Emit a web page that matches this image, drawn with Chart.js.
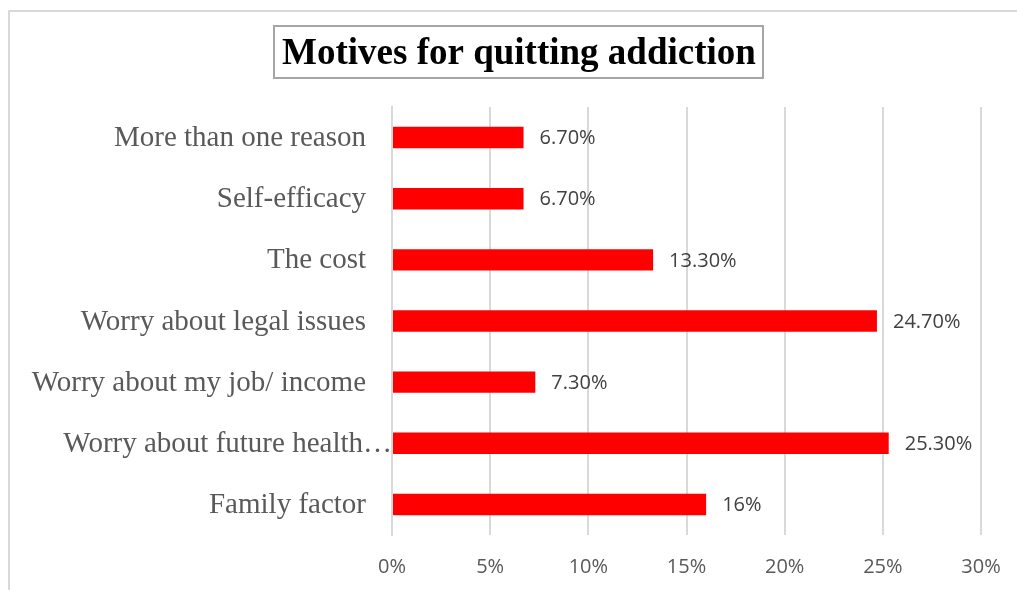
<!DOCTYPE html>
<html>
<head>
<meta charset="utf-8">
<script src="https://cdn.jsdelivr.net/npm/chart.js@4.4.1/dist/chart.umd.min.js"></script>
<style>
  html, body { margin: 0; padding: 0; background: #ffffff; }
  #wrap { position: relative; width: 1017px; height: 590px; }
  canvas { display: block; }
</style>
</head>
<body>
<div id="wrap"><canvas id="c" width="1017" height="590"></canvas></div>
<script>
const titleText = "Motives for quitting addiction";
const categories = [
  "More than one reason",
  "Self-efficacy",
  "The cost",
  "Worry about legal issues",
  "Worry about my job/ income",
  "Worry about future health\u2026",
  "Family factor"
];
const values = [6.7, 6.7, 13.3, 24.7, 7.3, 25.3, 16];
const valueLabels = ["6.70%", "6.70%", "13.30%", "24.70%", "7.30%", "25.30%", "16%"];
const tickValues = [0, 5, 10, 15, 20, 25, 30];

const CAT_FONT = '29px "Liberation Serif", "Times New Roman", serif';

const framePlugin = {
  id: 'frame',
  beforeDraw(chart) {
    const ctx = chart.ctx;
    ctx.save();
    ctx.fillStyle = '#ffffff';
    ctx.fillRect(0, 0, chart.width, chart.height);
    ctx.strokeStyle = '#d9d9d9';
    ctx.lineWidth = 2;
    ctx.beginPath();
    ctx.moveTo(9, 600);
    ctx.lineTo(9, 11);
    ctx.lineTo(1030, 11);
    ctx.stroke();
    ctx.restore();
  },
  afterDraw(chart) {
    const ctx = chart.ctx;
    ctx.save();
    // title box
    ctx.font = 'bold 37px "Liberation Serif", "Times New Roman", serif';
    ctx.fillStyle = '#000000';
    ctx.textAlign = 'center';
    ctx.textBaseline = 'middle';
    ctx.fillText(titleText, 519, 54);
    ctx.strokeStyle = '#a6a6a6';
    ctx.lineWidth = 2;
    ctx.strokeRect(274, 26, 489, 52);
    // category labels (from the y scale positions)
    const yScale = chart.scales.y;
    ctx.font = CAT_FONT;
    ctx.fillStyle = '#595959';
    ctx.textAlign = 'right';
    ctx.textBaseline = 'middle';
    categories.forEach((c, i) => {
      const y = yScale.getPixelForValue(i);
      let x = yScale.right - 26;
      if (c.endsWith('\u2026')) {
        // truncated label: ellipsis runs past the label gap, as in the original
        x = yScale.right;
      }
      ctx.fillText(c, x, y + 1);
    });
    // data labels
    const meta = chart.getDatasetMeta(0);
    ctx.font = '20px "Open Sans", sans-serif';
    ctx.fillStyle = '#404040';
    ctx.textAlign = 'left';
    ctx.textBaseline = 'middle';
    meta.data.forEach((bar, i) => {
      ctx.fillText(valueLabels[i], bar.x + 16, bar.y + 1);
    });
    ctx.restore();
  }
};

new Chart(document.getElementById('c'), {
  type: 'bar',
  data: {
    labels: categories,
    datasets: [{
      data: values,
      backgroundColor: '#ff0000',
      borderWidth: 0,
      barPercentage: 0.35,
      categoryPercentage: 1.0
    }]
  },
  options: {
    indexAxis: 'y',
    responsive: false,
    animation: false,
    devicePixelRatio: 1,
    layout: { padding: { top: 107, right: 36, bottom: 0, left: 0 } },
    plugins: {
      legend: { display: false },
      title: { display: false },
      tooltip: { enabled: false }
    },
    scales: {
      x: {
        min: 0, max: 30,
        afterBuildTicks(scale) { scale.ticks = tickValues.map(v => ({ value: v })); },
        afterFit(scale) { scale.height = 55; scale.paddingLeft = 0; scale.paddingRight = 0; },
        grid: { color: '#d9d9d9', lineWidth: 2, drawTicks: false },
        border: { display: false },
        ticks: {
          padding: 20,
          color: '#595959',
          font: { family: '"Open Sans", sans-serif', size: 20 },
          callback: (v) => v + '%'
        }
      },
      y: {
        afterFit(scale) { scale.width = 392; },
        grid: { display: false, drawTicks: false },
        border: { display: true, color: '#d9d9d9', width: 2 },
        ticks: { display: false }
      }
    }
  },
  plugins: [framePlugin]
});
</script>
</body>
</html>
